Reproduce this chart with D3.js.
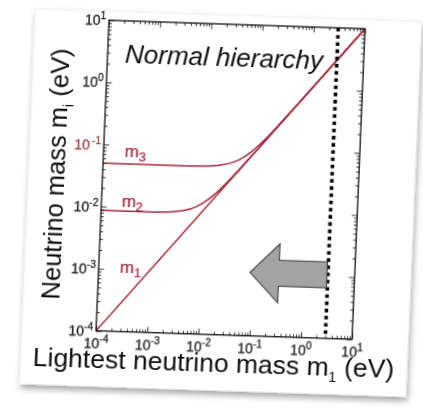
<!DOCTYPE html>
<html><head><meta charset="utf-8">
<script src="https://cdn.jsdelivr.net/npm/d3@7"></script>
<style>html,body{margin:0;padding:0;background:#fff;}svg{display:block;}</style>
</head><body>
<svg id="c" width="423" height="415"></svg>
<script>
// ---------- data ----------
const xMajor = [1e-4, 1e-3, 1e-2, 1e-1, 1e0, 1e1];
const xExp = ["-4", "-3", "-2", "-1", "0", "1"];
const yMajor = [1e-4, 1e-3, 1e-2, 1e-1, 1e0, 1e1];
const yExp = ["-4", "-3", "-2", "-1", "0", "1"];

const m1X = [1e-4, 10];
const m1Y = [1e-4, 10];
const m2X = [1e-4, 1e-3, 2e-3, 3e-3, 5e-3, 7e-3, 1e-2, 1.5e-2, 2e-2, 3e-2, 5e-2, 1e-1, 1, 10];
const m2Y = [0.00867, 0.00872, 0.00889, 0.00917, 0.0100, 0.0111, 0.0132, 0.0173, 0.0218, 0.0312, 0.0507, 0.1004, 1.0, 10];
const m3X = [1e-4, 1e-3, 5e-3, 1e-2, 2e-2, 3e-2, 4e-2, 5e-2, 7e-2, 0.1, 0.15, 0.2, 0.3, 0.5, 1, 10];
const m3Y = [0.0500, 0.0500, 0.0502, 0.0510, 0.0539, 0.0583, 0.0640, 0.0707, 0.0860, 0.1118, 0.158, 0.206, 0.304, 0.502, 1.001, 10];

const seriesLabels = ["m", "m", "m"];
const seriesSubs = ["3", "2", "1"];
const labelX = [2.6e-4, 2.5e-4, 2.6e-4];
const labelY = [0.064, 0.0101, 8.7e-4];

const title = "Normal hierarchy";
const titleX = 2.2e-4, titleY = 2.1;
const limitX = 3.0;               // dotted vertical limit
const arrowTail = 3.0, arrowBase = 0.33, arrowTip = 0.09, arrowY = 1.05e-3;

// ---------- layout ----------
const W = 256, H = 310.5;
const RED = "#a8283a";
const FONT = "'Liberation Sans', Arial, sans-serif";

const svg = d3.select("#c");
const defs = svg.append("defs");
const f = defs.append("filter").attr("id", "sh").attr("x", "-10%").attr("y", "-10%").attr("width", "120%").attr("height", "120%");
f.append("feDropShadow").attr("dx", 1.5).attr("dy", 4).attr("stdDeviation", 3)
  .attr("flood-color", "#000").attr("flood-opacity", 0.35);
defs.append("filter").attr("id", "soft").attr("x", "-5%").attr("y", "-5%").attr("width", "110%").attr("height", "110%")
  .append("feGaussianBlur").attr("stdDeviation", 0.3);
defs.append("clipPath").attr("id", "clip").append("rect").attr("width", W).attr("height", H);

const g0 = svg.append("g").attr("transform", "matrix(1,0.0332,-0.0419,1,109,20.25)");

// card
g0.append("rect").attr("x", -74).attr("y", -9).attr("width", 386).attr("height", 375)
  .attr("fill", "#fff").attr("stroke", "#e6e6e6").attr("stroke-width", 0.6).attr("filter", "url(#sh)");
const g = g0.append("g").attr("filter", "url(#soft)");

const x = d3.scaleLog().domain([1e-4, 10]).range([0, W]);
const y = d3.scaleLog().domain([1e-4, 10]).range([H, 0]);

function minors(d0, d1) {
  const out = [];
  for (let e = d0; e < d1; e++) for (let k = 2; k <= 9; k++) out.push(k * Math.pow(10, e));
  return out;
}
const xMinor = minors(-4, 1), yMinor = minors(-4, 1);

function drawAxis(gen, vals, size, tr) {
  const a = g.append("g").attr("transform", tr)
    .call(gen.tickValues(vals).tickSize(size).tickFormat(() => ""));
  a.select(".domain").remove();
  a.attr("font-size", null).attr("font-family", null);
  a.selectAll(".tick line").attr("stroke", "#222").attr("stroke-width", 0.9);
  return a;
}
// bottom / top / left / right, inside ticks
const xb = drawAxis(d3.axisBottom(x), xMajor, -5.5, `translate(0,${H})`);
drawAxis(d3.axisBottom(x), xMinor, -3, `translate(0,${H})`);
drawAxis(d3.axisTop(x), xMajor, -5.5, `translate(0,0)`);
drawAxis(d3.axisTop(x), xMinor, -3, `translate(0,0)`);
const yl = drawAxis(d3.axisLeft(y), yMajor, -5.5, `translate(0,0)`);
drawAxis(d3.axisLeft(y), yMinor, -3, `translate(0,0)`);
drawAxis(d3.axisRight(y), yMajor, -5.5, `translate(${W},0)`);
drawAxis(d3.axisRight(y), yMinor, -3, `translate(${W},0)`);

// tick labels with superscripts
xb.selectAll(".tick text").each(function (d, i) {
  const t = d3.select(this).text(null).attr("y", 17.5).attr("dy", null)
    .attr("fill", "#222").attr("stroke", "#222").attr("stroke-width", 0.3)
    .style("font-family", FONT).style("font-size", "14px").attr("text-anchor", "middle");
  t.append("tspan").text("10");
  t.append("tspan").attr("dy", -6).style("font-size", "10px").text(xExp[i]);
});
yl.selectAll(".tick text").each(function (d, i) {
  const c = yExp[i] === "-1" ? "#a8404a" : "#222";
  const t = d3.select(this).text(null).attr("x", -3).attr("dy", 4.8)
    .attr("fill", c).attr("stroke", c).attr("stroke-width", 0.3)
    .style("font-family", FONT).style("font-size", "14px").attr("text-anchor", "end");
  t.append("tspan").text("10");
  t.append("tspan").attr("dy", -6).style("font-size", "10px").text((yExp[i] === "-1" ? "\u2009" : "") + yExp[i]);
});

// curves
const plot = g.append("g").attr("clip-path", "url(#clip)");
const line = d3.line().x(d => x(d[0])).y(d => y(d[1])).curve(d3.curveMonotoneX);
[[m1X, m1Y], [m2X, m2Y], [m3X, m3Y]].forEach(([xs, ys]) => {
  plot.append("path").datum(xs.map((v, i) => [v, ys[i]]))
    .attr("d", line).attr("fill", "none").attr("stroke", RED).attr("stroke-width", 1.5);
});

// dotted limit line
plot.append("line").attr("x1", x(limitX)).attr("x2", x(limitX)).attr("y1", y(10)).attr("y2", y(1e-4) - 2)
  .attr("stroke", "#000").attr("stroke-width", 3.6).attr("stroke-dasharray", "3.6,3.6");

// arrow
const cy = y(arrowY), hh = 29.5, sh = 13;
const pts = [[x(arrowTip), cy], [x(arrowBase), cy - hh], [x(arrowBase), cy - sh], [x(arrowTail) - 1, cy - sh],
  [x(arrowTail) - 1, cy + sh], [x(arrowBase), cy + sh], [x(arrowBase), cy + hh]];
g.append("polygon").attr("points", pts.map(p => p.join(",")).join(" "))
  .attr("fill", "#a3a3a3").attr("stroke", "#3a3a3a").attr("stroke-width", 1);

// frame
g.append("rect").attr("width", W).attr("height", H).attr("fill", "none").attr("stroke", "#111").attr("stroke-width", 1.3);

// series labels
seriesLabels.forEach((s, i) => {
  const t = g.append("text").attr("x", x(labelX[i])).attr("y", y(labelY[i]))
    .attr("fill", RED).attr("stroke", RED).attr("stroke-width", 0.2)
    .style("font-family", FONT).style("font-size", "17px");
  t.append("tspan").text(s);
  t.append("tspan").attr("dy", 4).style("font-size", "13px").text(seriesSubs[i]);
});

// title
g.append("text").attr("x", x(titleX)).attr("y", y(titleY)).style("font-family", FONT)
  .attr("font-style", "italic").style("font-size", "26px").attr("fill", "#111").text(title);

// axis titles
const xt = g.append("text").attr("x", -62).attr("y", H + 37).style("font-family", FONT)
  .style("font-size", "26.5px").attr("fill", "#111");
xt.append("tspan").text("Lightest neutrino mass m");
xt.append("tspan").attr("dy", 6).style("font-size", "14.5px").text("1");
xt.append("tspan").attr("dy", -6).text(" (eV)");

const yt = g.append("text").attr("transform", `translate(-38,${H / 2}) rotate(-90)`)
  .attr("text-anchor", "middle").style("font-family", FONT).style("font-size", "25.5px").attr("fill", "#111");
yt.append("tspan").text("Neutrino mass m");
yt.append("tspan").attr("dy", 6).style("font-size", "14px").text("i");
yt.append("tspan").attr("dy", -6).text(" (eV)");
</script>
</body></html>
